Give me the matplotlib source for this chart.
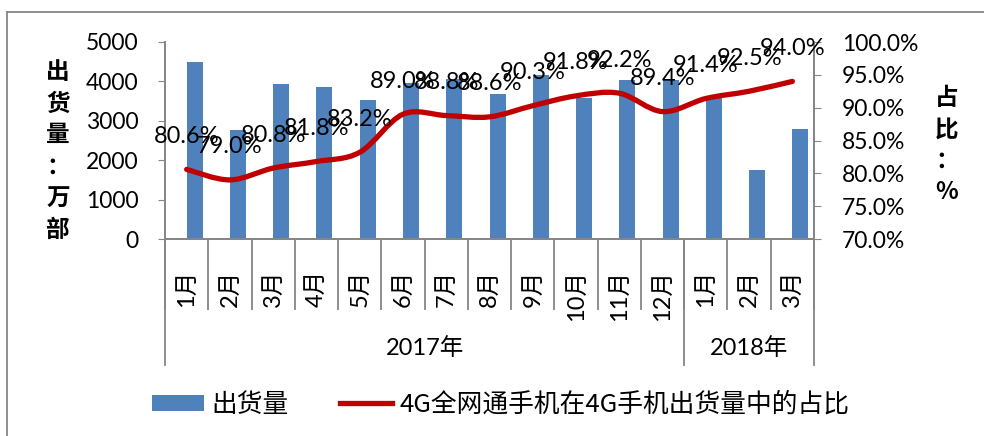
import numpy as np
import matplotlib
matplotlib.use("Agg")
import matplotlib.pyplot as plt
import matplotlib.transforms as mtransforms
from matplotlib.path import Path
from matplotlib.patches import PathPatch, Patch
from matplotlib.lines import Line2D

plt.rcParams['font.family'] = ['Lato', 'Noto Sans CJK SC', 'DejaVu Sans']

months = ["1月", "2月", "3月", "4月", "5月", "6月", "7月", "8月", "9月", "10月", "11月", "12月", "1月", "2月", "3月"]
years = ["2017年", "2018年"]
year_counts = [12, 3]
shipments = [4500, 2770, 3930, 3870, 3530, 3950, 4060, 3680, 4150, 3570, 4040, 4030, 3620, 1740, 2790]
share = [80.6, 79.0, 80.8, 81.8, 83.2, 89.0, 88.8, 88.6, 90.3, 91.8, 92.2, 89.4, 91.4, 92.5, 94.0]

BLUE = "#4F81BD"
RED = "#C00000"
GRAY = "#868686"

fig = plt.figure(figsize=(9.84, 4.36), dpi=100)
W, H = 984, 436
ax = fig.add_axes([165 / W, 1 - 239 / H, 649 / W, 197 / H])
ax2 = ax.twinx()

x = np.arange(len(months))
ax.bar(x + 0.185, shipments, width=0.37, color=BLUE, zorder=2)
ax.set_xlim(-0.5, len(months) - 0.5)
ax.set_ylim(0, 5000)
ax.set_yticks(np.arange(0, 5001, 1000))
ax2.set_ylim(70, 100)
ax2.set_yticks(np.arange(70, 100.1, 5))
ax2.set_yticklabels([f"{v:.1f}%" for v in np.arange(70, 100.1, 5)])

# smoothed line (Excel-style Bezier through the points)
pts = np.column_stack([x, share]).astype(float)
verts = [tuple(pts[0])]
codes = [Path.MOVETO]
n = len(pts)
for i in range(n - 1):
    p0 = pts[max(i - 1, 0)]
    p1 = pts[i]
    p2 = pts[i + 1]
    p3 = pts[min(i + 2, n - 1)]
    c1 = p1 + (p2 - p0) / 6.0
    c2 = p2 - (p3 - p1) / 6.0
    verts += [tuple(c1), tuple(c2), tuple(p2)]
    codes += [Path.CURVE4] * 3
patch = PathPatch(Path(verts, codes), facecolor='none', edgecolor=RED, lw=3.8,
                  capstyle='round', joinstyle='round', zorder=3)
ax2.add_patch(patch)

for xi, v in zip(x, share):
    ax2.annotate(f"{v:.1f}%", (xi, v), xytext=(0, 33), textcoords='offset pixels',
                 ha='center', va='center', fontsize=17, color='black', zorder=4)

# spines and ticks
for a in (ax, ax2):
    a.spines['top'].set_visible(False)
    for s in ('left', 'right', 'bottom'):
        a.spines[s].set_color(GRAY)
        a.spines[s].set_linewidth(1.3)
ax.tick_params(axis='y', direction='out', length=5, color=GRAY, labelsize=16.5, pad=14)
ax2.tick_params(axis='y', direction='out', length=5, color=GRAY, labelsize=16.5, pad=15)

ax.set_xticks(x)
ax.set_xticklabels(months, rotation=90, va='top', ha='center', fontsize=17)
ax.tick_params(axis='x', which='major', length=0, pad=22)
ax.set_xticks(np.arange(len(months) + 1) - 0.5, minor=True)
ax.tick_params(axis='x', which='minor', length=51, color=GRAY, width=1.3, direction='out')

# long group separators and year labels
blend = mtransforms.blended_transform_factory(ax.transData, fig.transFigure)
bounds = np.concatenate([[0], np.cumsum(year_counts)]) - 0.5
for b in bounds:
    fig.add_artist(Line2D([b, b], [1 - 239 / H, 1 - 365 / H], transform=blend, color=GRAY, lw=1.3))
for yi, yl in enumerate(years):
    cx = (bounds[yi] + bounds[yi + 1]) / 2
    fig.text(cx, 1 - 348 / H, yl, transform=blend, ha='center', va='center', fontsize=17)

# axis titles (stacked)
fig.text(58 / W, 1 - 151 / H, "\n".join("出货量：万部"), ha='center', va='center',
         fontsize=17, fontweight='bold', linespacing=1.4, family=['Noto Sans CJK SC'])
fig.text(947 / W, 1 - 145 / H, "\n".join("占比：%"), ha='center', va='center',
         fontsize=17, fontweight='bold', linespacing=1.4, family=['Noto Sans CJK SC'])

# legend
handles = [Patch(facecolor=BLUE, edgecolor='none'), Line2D([], [], color=RED, lw=3.8)]
labels = ["出货量", "4G全网通手机在4G手机出货量中的占比"]
fig.legend(handles, labels, loc='center', bbox_to_anchor=(0.509, 1 - 405 / H), ncol=2,
           frameon=False, handlelength=2.0, handleheight=0.6,
           handletextpad=0.3, columnspacing=2.0,
           prop={'family': ['Noto Sans CJK SC'], 'size': 18.5})

# outer frame (left and top)
fig.add_artist(Line2D([7 / W, 7 / W], [0, 1 - 12.5 / H], transform=fig.transFigure, color=GRAY, lw=1.3))
fig.add_artist(Line2D([7 / W, 1], [1 - 12.5 / H, 1 - 12.5 / H], transform=fig.transFigure, color=GRAY, lw=1.3))

fig.savefig("out.png", dpi=100)
